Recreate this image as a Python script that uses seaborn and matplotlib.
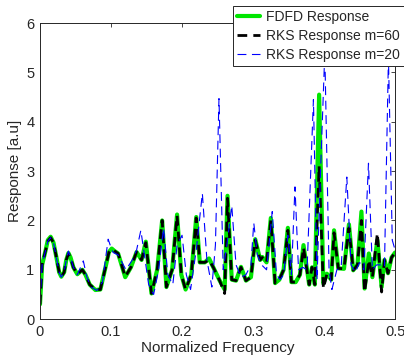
import matplotlib
matplotlib.use("Agg")
import matplotlib.pyplot as plt
import seaborn as sns
import numpy as np
import pandas as pd

# ---- data ----
fdfd_x = [0, 0.003, 0.008, 0.011, 0.015, 0.019, 0.023, 0.027, 0.030, 0.034, 0.037, 0.040, 0.043, 0.047,
          0.0526, 0.0596, 0.064, 0.070, 0.078, 0.085,
          0.093, 0.097, 0.101, 0.105, 0.110, 0.120, 0.128, 0.136, 0.143, 0.149, 0.157, 0.165, 0.172, 0.178,
          0.186, 0.193, 0.199, 0.205, 0.213, 0.220, 0.225, 0.232, 0.238, 0.244, 0.253, 0.260, 0.264, 0.270,
          0.276, 0.283, 0.290, 0.297, 0.303, 0.310, 0.313, 0.319, 0.325, 0.331, 0.337, 0.343, 0.349, 0.354,
          0.360, 0.366, 0.371, 0.379, 0.383, 0.387, 0.393, 0.399, 0.404, 0.410, 0.414, 0.420, 0.428, 0.435,
          0.441, 0.447, 0.4526, 0.457, 0.463, 0.468, 0.475, 0.481, 0.485, 0.490, 0.495, 0.500]
fdfd_y = [0.3, 1.1, 1.4, 1.6, 1.67, 1.55, 1.26, 0.95, 0.86, 0.95, 1.2, 1.34, 1.25, 1.05,
          0.91, 1.0, 0.9, 0.7, 0.59, 0.6,
          1.1, 1.36, 1.43, 1.38, 1.33, 0.85, 1.05, 1.36, 1.2, 1.57, 0.52, 1.0, 2.0, 0.65,
          1.0, 2.12, 0.9, 0.6, 0.9, 2.07, 1.15, 1.15, 1.23, 1.05, 0.78, 0.6, 2.5, 0.8,
          0.78, 1.06, 0.78, 0.85, 1.62, 1.2, 1.26, 1.15, 2.05, 0.73, 0.8, 1.0, 1.85, 0.75,
          0.75, 0.9, 1.5, 0.7, 1.05, 0.7, 4.55, 0.72, 0.92, 0.8, 1.8, 1.03, 1.02, 1.92,
          0.99, 1.1, 2.18, 0.62, 1.33, 0.85, 1.6, 0.65, 1.2, 0.93, 1.25, 1.35]

rks60_x = fdfd_x
rks60_y = [0.3, 1.1, 1.4, 1.58, 1.65, 1.55, 1.26, 0.95, 0.86, 0.95, 1.2, 1.33, 1.25, 1.05,
           0.91, 1.0, 0.9, 0.7, 0.6, 0.6,
           1.1, 1.35, 1.42, 1.38, 1.33, 0.86, 1.05, 1.36, 1.2, 1.55, 0.52, 1.0, 2.0, 0.65,
           1.0, 2.1, 0.9, 0.6, 0.9, 2.05, 1.15, 1.15, 1.2, 1.05, 0.78, 0.52, 2.45, 0.8,
           0.78, 1.05, 0.78, 0.85, 1.6, 1.2, 1.25, 1.15, 2.0, 0.73, 0.8, 1.0, 1.8, 0.75,
           0.75, 0.9, 1.45, 0.7, 1.05, 0.7, 3.1, 0.62, 0.92, 0.8, 1.75, 1.03, 1.02, 1.85,
           0.99, 1.1, 2.0, 0.55, 1.2, 0.85, 1.74, 0.55, 1.2, 0.93, 1.25, 1.35]

rks20_x = [0, 0.003, 0.008, 0.011, 0.015, 0.019, 0.023, 0.027, 0.030, 0.034, 0.037, 0.040, 0.043, 0.047,
           0.0526, 0.061, 0.066, 0.072, 0.08, 0.088,
           0.093, 0.096, 0.100, 0.103, 0.110, 0.121, 0.130, 0.136, 0.142, 0.148, 0.153, 0.160, 0.167, 0.174,
           0.180, 0.187, 0.193, 0.200, 0.206, 0.212, 0.220, 0.2286, 0.235, 0.242, 0.247, 0.252, 0.258, 0.264,
           0.270, 0.276, 0.283, 0.290, 0.297, 0.301, 0.306, 0.312, 0.319, 0.327, 0.333, 0.338, 0.343,
           0.349, 0.354, 0.359, 0.364, 0.370, 0.376, 0.385, 0.390, 0.395, 0.401, 0.407, 0.411, 0.418,
           0.424, 0.432, 0.438, 0.444, 0.450, 0.456, 0.4625, 0.468, 0.474, 0.480, 0.485, 0.4906, 0.496, 0.5]
rks20_y = [0.35, 1.1, 1.4, 1.58, 1.65, 1.55, 1.25, 0.95, 0.85, 0.95, 1.2, 1.38, 1.25, 1.05,
           0.9, 1.18, 0.85, 0.65, 0.58, 0.75,
           1.3, 1.62, 1.45, 1.35, 1.3, 1.0, 1.2, 1.4, 1.8, 1.2, 0.7, 0.5, 1.0, 1.85,
           0.9, 0.7, 1.5, 1.7, 0.9, 0.6, 1.4, 2.55, 1.2, 0.65, 1.5, 4.47, 1.0, 1.6,
           2.3, 1.1, 0.85, 0.9, 1.1, 1.95, 1.3, 1.1, 1.0, 2.18, 0.9, 0.8, 0.9,
           1.7, 0.9, 2.68, 1.0, 1.05, 1.0, 4.45, 0.8, 3.0, 5.4, 1.0, 0.6, 1.0,
           1.05, 2.88, 1.1, 0.95, 1.15, 1.0, 3.16, 1.0, 1.1, 1.1, 1.05, 5.3, 1.6, 1.4]

labels = ["FDFD Response", "RKS Response m=60", "RKS Response m=20"]
x_ticks = [0, 0.1, 0.2, 0.3, 0.4, 0.5]
x_tick_labels = ["0", "0.1", "0.2", "0.3", "0.4", "0.5"]
y_ticks = [0, 1, 2, 3, 4, 5, 6]

sns.set_style("white")
plt.rcParams['font.family'] = ['Liberation Sans', 'DejaVu Sans']

fig = plt.figure(figsize=(4.04, 3.61), dpi=100)
ax = fig.add_axes([0.099, 0.116, 0.879, 0.82])

sns.lineplot(x=fdfd_x, y=fdfd_y, ax=ax, color="#00e600", linewidth=3.0, label=labels[0])
sns.lineplot(x=rks60_x, y=rks60_y, ax=ax, color="black", linewidth=2.0, label=labels[1])
sns.lineplot(x=rks20_x, y=rks20_y, ax=ax, color="#0000ff", linewidth=0.8, label=labels[2])
lines = ax.get_lines()
lines[1].set_dashes([3.5, 2.2])
lines[2].set_dashes([8, 5])

ax.set_xlim(0, 0.5)
ax.set_ylim(0, 6)
ax.set_xticks(x_ticks)
ax.set_xticklabels(x_tick_labels)
ax.set_yticks(y_ticks)
ax.tick_params(direction="in", length=3, width=0.6, top=True, right=True,
               labelsize=10.5, colors="#262626", pad=4)
for s in ax.spines.values():
    s.set_color("#262626")
    s.set_linewidth(0.7)
ax.set_xlabel("Normalized Frequency", fontsize=11, color="#262626", labelpad=2)
ax.set_ylabel("Response [a.u]", fontsize=11, color="#262626", labelpad=3)

leg = ax.legend(loc="upper right", bbox_to_anchor=(1.0, 0.983), bbox_transform=fig.transFigure,
                fontsize=10, frameon=True, fancybox=False, borderpad=0.3, labelspacing=0.35,
                handlelength=1.7, handletextpad=0.4, borderaxespad=0)
leg.get_frame().set_edgecolor("#262626")
leg.get_frame().set_linewidth(0.7)
leg.get_frame().set_alpha(1)

fig.savefig("out.png", dpi=100)
